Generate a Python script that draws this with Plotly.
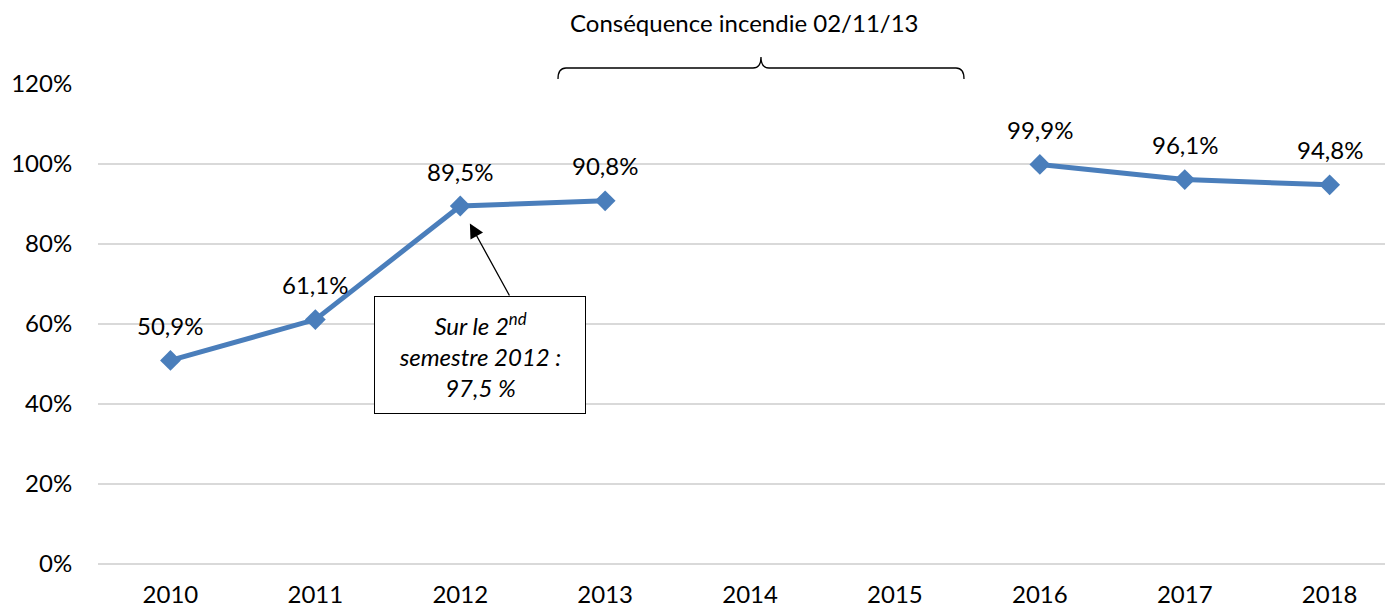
import plotly.graph_objects as go

years = ["2010", "2011", "2012", "2013", "2014", "2015", "2016", "2017", "2018"]
rates = [50.9, 61.1, 89.5, 90.8, None, None, 99.9, 96.1, 94.8]
y_ticks = [0, 20, 40, 60, 80, 100, 120]
y_tick_labels = ["0%", "20%", "40%", "60%", "80%", "100%", "120%"]
title_text = "Conséquence incendie 02/11/13"
note_text = "<i>Sur le 2<sup>nd</sup><br>semestre 2012 :<br>97,5 %</i>"

FONT = "Lato"
FS = 24
OFF = 8  # page body margin
W, H = 1393 - OFF, 608 - OFF
L, T = 98 - OFF, 84 - OFF
R, B = 0, H - (564 - OFF)
PW, PH = W - L - R, H - T - B

def px(x):
    # reference pixel x -> paper fraction
    return (x - OFF - L) / PW

def py(y):
    return (564 - y) / PH

label_texts = [None if v is None else f"{v:.1f}".replace(".", ",") + "%" for v in rates]

fig = go.Figure()
fig.add_trace(go.Scatter(
    x=years, y=rates, mode="lines+markers",
    line=dict(color="#4a7ebb", width=5),
    marker=dict(symbol="diamond", size=16, color="#4a7ebb"),
    connectgaps=False, hoverinfo="skip", showlegend=False,
))

annotations = []
for i, (v, t) in enumerate(zip(rates, label_texts)):
    if v is None:
        continue
    annotations.append(dict(
        x=i, y=v, xref="x", yref="y", yshift=35,
        text=t, showarrow=False, xanchor="center", yanchor="middle",
        font=dict(family=FONT, size=FS, color="#000000"),
    ))

# Arrow to 2012 point
annotations.append(dict(
    x=2, y=rates[2], xref="x", yref="y",
    ax=50, ay=91,
    text="", showarrow=True, arrowhead=2, arrowsize=2.2, arrowwidth=1.3,
    arrowcolor="#000000", standoff=20,
))
# Note box
annotations.append(dict(
    x=px(480), y=py(355), xref="paper", yref="paper",
    xanchor="center", yanchor="middle",
    text=note_text, showarrow=False, align="center",
    font=dict(family=FONT, size=FS, color="#000000"),
    bordercolor="#000000", borderwidth=1, bgcolor="white",
    width=208, height=114,
))
# Title above brace
annotations.append(dict(
    x=px(744), y=py(22), xref="paper", yref="paper",
    xanchor="center", yanchor="middle",
    text=title_text, showarrow=False,
    font=dict(family=FONT, size=FS, color="#000000"),
))

# Curly brace path
xl, xc, xr = 558, 761, 964
yb, yh, yt = 79, 68, 57
r = 8
pts = (
    f"M {px(xl)},{py(yb)} Q {px(xl)},{py(yh)} {px(xl + r)},{py(yh)} "
    f"L {px(xc - r)},{py(yh)} Q {px(xc)},{py(yh)} {px(xc)},{py(yt)} "
    f"Q {px(xc)},{py(yh)} {px(xc + r)},{py(yh)} "
    f"L {px(xr - r)},{py(yh)} Q {px(xr)},{py(yh)} {px(xr)},{py(yb)}"
)
shapes = [dict(type="path", path=pts, xref="paper", yref="paper",
               line=dict(color="#000000", width=1.3))]

fig.update_layout(
    width=W, height=H,
    margin=dict(l=L, r=R, t=T, b=B, pad=0, autoexpand=False),
    paper_bgcolor="white", plot_bgcolor="white",
    font=dict(family=FONT, size=FS, color="#000000"),
    annotations=annotations, shapes=shapes,
    xaxis=dict(
        type="category", categoryorder="array", categoryarray=years,
        range=[-0.5, -0.5 + PW / 144.9], showgrid=False, zeroline=False,
        showline=False, ticks="outside", ticklen=9, tickcolor="rgba(0,0,0,0)",
        tickfont=dict(family=FONT, size=FS, color="#000000"), automargin=False,
    ),
    yaxis=dict(
        range=[0, 120], tickvals=y_ticks, ticktext=y_tick_labels,
        showgrid=True, gridcolor="#d9d9d9", gridwidth=2,
        zeroline=True, zerolinecolor="#d9d9d9", zerolinewidth=2,
        showline=False, ticks="outside", ticklen=20, tickcolor="rgba(0,0,0,0)",
        tickfont=dict(family=FONT, size=FS, color="#000000"), automargin=False,
    ),
)

fig.write_html("out.html")
